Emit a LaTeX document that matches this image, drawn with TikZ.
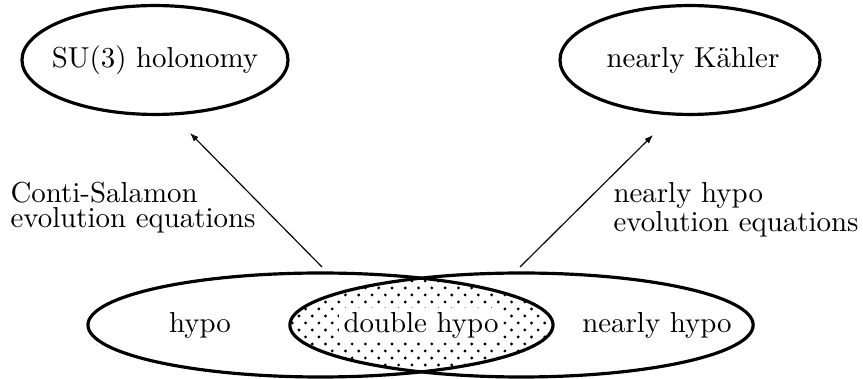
\documentclass[tikz,border=0pt]{standalone}
\usetikzlibrary{shapes.geometric,arrows.meta,patterns}
\pgfdeclarepatternformonly{sdots}{\pgfqpoint{-0.7pt}{-0.7pt}}{\pgfqpoint{3.9pt}{4.15pt}}{\pgfqpoint{4.6pt}{4.85pt}}{%
  \pgfpathcircle{\pgfqpoint{0pt}{0pt}}{0.55pt}%
  \pgfpathcircle{\pgfqpoint{2.3pt}{2.42pt}}{0.55pt}%
  \pgfusepath{fill}}
\begin{document}
\begin{tikzpicture}[x=0.3462pt,y=-0.3462pt,
  setbox/.style={draw, ellipse, line width=1.1pt, inner sep=0pt},
  lbl/.style={inner sep=0pt, font=\fontsize{10}{8.7}\selectfont},
  evo/.style={line width=0.4pt, -{Latex[length=3pt,width=2.2pt]}}]
\useasboundingbox (0,0) rectangle (863,379);
% intersection (double hypo) filled with dots
\begin{scope}
  \clip (320.5,325) ellipse [x radius=80.5pt, y radius=18pt];
  \fill[pattern=sdots] (521.5,325) ellipse [x radius=80.2pt, y radius=18pt];
\end{scope}
% set nodes
\node[setbox, minimum width=92.1pt, minimum height=37.7pt] (su3) at (155,60) {};
\node[setbox, minimum width=90pt, minimum height=37.7pt] (nk) at (690,60) {};
\node[setbox, minimum width=161pt, minimum height=36pt] (hypo) at (320.5,325) {};
\node[setbox, minimum width=160.4pt, minimum height=36pt] (nhypo) at (521.5,325) {};
% texts
\node[lbl] (su3t) at (su3.center) {SU(3) holonomy};
\node[lbl] (nkt) at (693,60) {nearly K\"ahler};
\node[lbl] (hypot) at (200,325) {hypo};
\node[lbl, fill=white, inner sep=1.5pt] (dht) at (421,325) {double hypo};
\node[lbl] (nht) at (657,325) {nearly hypo};
% evolution arrows
\coordinate (csfrom) at (322,267);
\coordinate (csto) at (190,133);
\coordinate (nhfrom) at (520,267);
\coordinate (nhto) at (653,135);
\draw[evo] (csfrom) -- (csto);
\draw[evo] (nhfrom) -- (nhto);
\node[lbl, align=left, anchor=north west] (cslbl) at (10,181.7) {Conti-Salamon\\evolution equations};
\node[lbl, align=left, anchor=north west] (nhlbl) at (613,181.7) {nearly hypo\\evolution equations};
\end{tikzpicture}
\end{document}
